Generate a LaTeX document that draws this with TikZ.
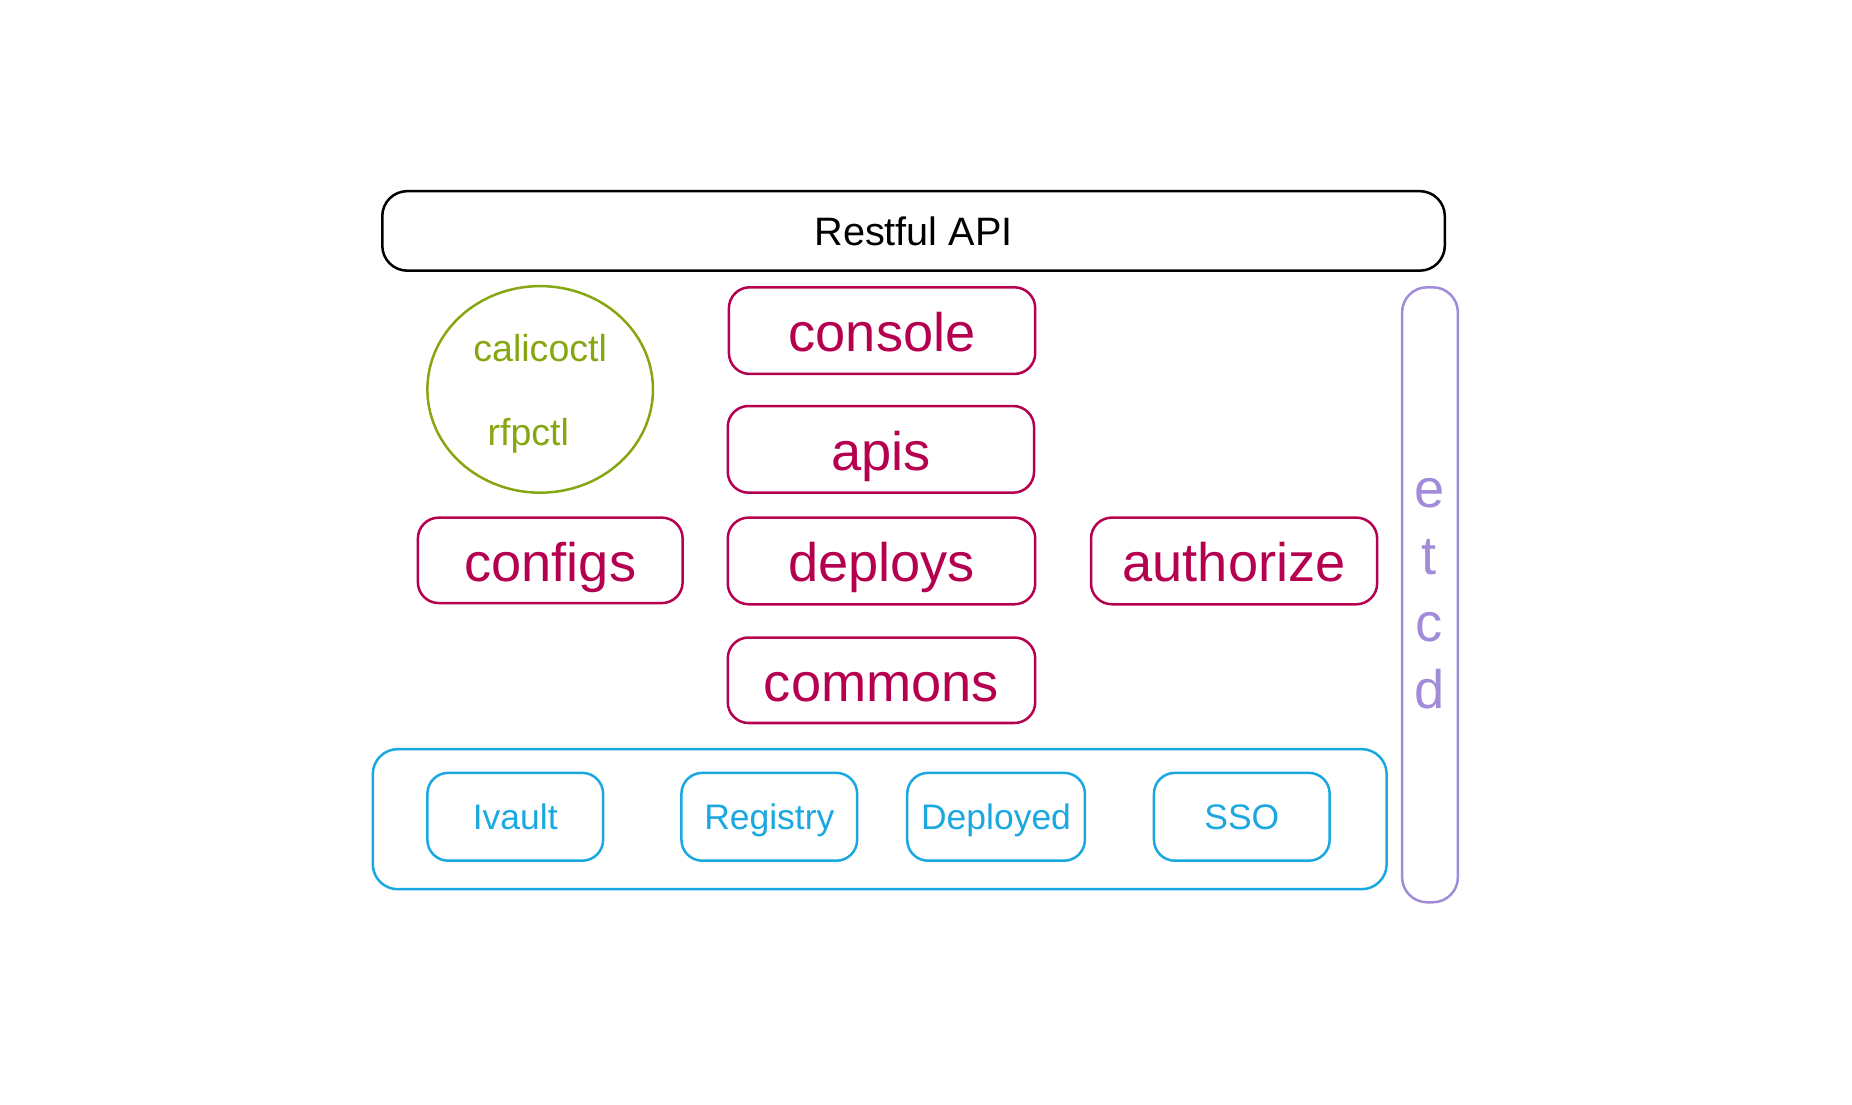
\documentclass[tikz,border=0pt]{standalone}
\usepackage{fontspec}
\setmainfont{Liberation Sans}
\usetikzlibrary{shapes.geometric}
\definecolor{crim}{HTML}{B5004F}
\definecolor{skyb}{HTML}{1BA8E0}
\definecolor{olivg}{HTML}{86A612}
\definecolor{lavd}{HTML}{A08CD8}
\tikzset{
  modbox/.style={draw=crim, text=crim, rounded corners=5pt, semithick, text height=2ex, text depth=0.1ex, font=\fontsize{13}{15}\selectfont},
  svcbox/.style={draw=skyb, text=skyb, rounded corners=5pt, semithick, text height=1.6ex, text depth=0.45ex, minimum width=1.48cm, minimum height=0.74cm, font=\fontsize{8.5}{10}\selectfont}
}
\begin{document}
\begin{tikzpicture}
    \useasboundingbox (0,0) rectangle (15.6,-9.3);

    % Top API bar
    \node[draw, rounded corners=6pt, semithick, minimum width=8.95cm, minimum height=0.67cm, font=\fontsize{9.5}{11}\selectfont] (api) at (7.695,-1.945) {Restful API};

    % Command line tools
    \node[ellipse, draw=olivg, semithick, minimum width=1.9cm, minimum height=1.74cm] (cli) at (4.55,-3.28) {};
    \node[text=olivg, font=\fontsize{9}{10}\selectfont] (calico) at (4.55,-2.93) {calicoctl};
    \node[text=olivg, font=\fontsize{9}{10}\selectfont] (rfp) at (4.45,-3.67) {rfpctl};

    % Modules
    \node[modbox, minimum width=2.58cm, minimum height=0.73cm] (console) at (7.43,-2.785) {console};
    \node[modbox, minimum width=2.58cm, minimum height=0.73cm] (apis) at (7.42,-3.785) {apis};
    \node[modbox, minimum width=2.23cm, minimum height=0.72cm] (configs) at (4.635,-4.72) {configs};
    \node[modbox, minimum width=2.59cm, minimum height=0.73cm] (deploys) at (7.425,-4.725) {deploys};
    \node[modbox, minimum width=2.41cm, minimum height=0.73cm] (authorize) at (10.395,-4.725) {authorize};
    \node[modbox, minimum width=2.59cm, minimum height=0.72cm] (commons) at (7.425,-5.73) {commons};

    % Backing services
    \node[draw=skyb, rounded corners=6pt, semithick, minimum width=8.54cm, minimum height=1.18cm] (infra) at (7.41,-6.9) {};
    \node[svcbox] (ivault) at (4.34,-6.88) {Ivault};
    \node[svcbox] (registry) at (6.48,-6.88) {Registry};
    \node[svcbox] (deployed) at (8.39,-6.88) {Deployed};
    \node[svcbox] (sso) at (10.46,-6.88) {SSO};

    % Storage
    \node[draw=lavd, rounded corners=6pt, semithick, minimum width=0.47cm, minimum height=5.18cm] (etcd) at (12.045,-5.01) {};
    \node[text=lavd, font=\fontsize{13}{15}\selectfont, align=center] (etcdtxt) at (12.04,-5.0) {e\\[1pt]t\\[1pt]c\\[1pt]d};
\end{tikzpicture}
\end{document}
